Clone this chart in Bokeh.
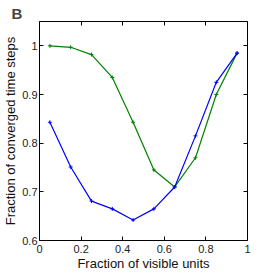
from bokeh.plotting import figure
from bokeh.models import LinearAxis, Range1d, FixedTicker, CustomJSTickFormatter
from bokeh.embed import file_html
from bokeh.resources import INLINE

x_vals = [0.05, 0.15, 0.25, 0.35, 0.45, 0.55, 0.65, 0.75, 0.85, 0.95]
blue_vals = [0.843, 0.751, 0.681, 0.665, 0.642, 0.665, 0.710, 0.815, 0.925, 0.985]
green_vals = [1.000, 0.997, 0.982, 0.935, 0.843, 0.745, 0.710, 0.770, 0.900, 0.985]
x_ticks = [0, 0.2, 0.4, 0.6, 0.8, 1]
y_ticks = [0.6, 0.7, 0.8, 0.9, 1.0]

FONT = "Liberation Sans"

p = figure(width=273, height=273, output_backend="svg", toolbar_location=None,
           x_range=Range1d(0, 1), y_range=Range1d(0.6, 1.05),
           min_border_left=36, min_border_right=26, min_border_top=21, min_border_bottom=31)
p.grid.visible = False
p.outline_line_color = "black"
p.outline_line_width = 1
p.background_fill_color = "white"
p.border_fill_color = "white"

p.title.text = "B"
p.title.text_font = FONT
p.title.text_font_size = "15px"
p.title.text_font_style = "bold"
p.title.align = "left"
p.title.offset = -28
p.title.standoff = 0

for ax in [p.xaxis[0], p.yaxis[0]]:
    ax.major_tick_in = 4
    ax.major_tick_out = 0
    ax.minor_tick_line_color = None
    ax.axis_line_color = None
    ax.major_label_text_font = FONT
    ax.major_label_text_font_size = "11px"
    ax.major_label_text_color = "#222222"
    ax.axis_label_text_font = FONT
    ax.axis_label_text_font_size = "13px"
    ax.axis_label_text_font_style = "normal"
    ax.axis_label_text_color = "#111111"

p.xaxis[0].ticker = FixedTicker(ticks=x_ticks)
p.yaxis[0].ticker = FixedTicker(ticks=y_ticks)
p.xaxis[0].major_label_overrides = {0: "0", 1: "1"}
p.yaxis[0].major_label_overrides = {1.0: "1"}
p.xaxis[0].major_label_standoff = 4
p.yaxis[0].major_label_standoff = 2
p.xaxis[0].axis_label_standoff = 0
p.yaxis[0].axis_label_standoff = 1
p.xaxis[0].axis_label = "Fraction of visible units"
p.yaxis[0].axis_label = "Fraction of converged time steps"

blank = CustomJSTickFormatter(code="return ''")
top = LinearAxis(ticker=FixedTicker(ticks=x_ticks), formatter=blank,
                 major_tick_in=4, major_tick_out=0, minor_tick_line_color=None,
                 axis_line_color=None, major_label_standoff=0)
right = LinearAxis(ticker=FixedTicker(ticks=y_ticks), formatter=blank,
                   major_tick_in=4, major_tick_out=0, minor_tick_line_color=None,
                   axis_line_color=None, major_label_standoff=0)
p.add_layout(top, "above")
p.add_layout(right, "right")

p.line(x_vals, green_vals, line_color="#008000", line_width=1.2)
p.scatter(x_vals, green_vals, marker="cross", size=4, line_color="#008000")
p.line(x_vals, blue_vals, line_color="#0000ff", line_width=1.2)
p.scatter(x_vals, blue_vals, marker="cross", size=4, line_color="#0000ff")

open("out.html", "w").write(file_html(p, INLINE))
